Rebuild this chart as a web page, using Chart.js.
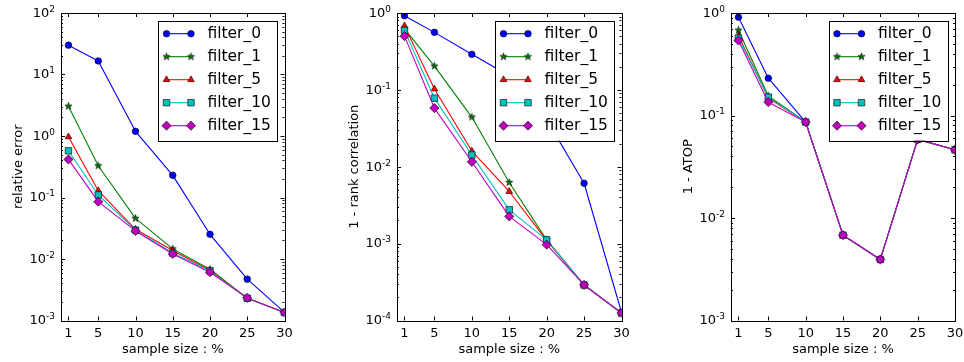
<!DOCTYPE html>
<html>
<head>
<meta charset="utf-8">
<script src="https://cdn.jsdelivr.net/npm/chart.js@4/dist/chart.umd.min.js"></script>
<style>
  html, body { margin: 0; padding: 0; background: #fff; }
  #wrap { position: relative; width: 964px; height: 362px; }
  #wrap canvas { position: absolute; left: 0; top: 0; }
</style>
</head>
<body>
<div id="wrap">
  <canvas id="relChart" width="964" height="362"></canvas>
  <canvas id="rankChart" width="964" height="362"></canvas>
  <canvas id="atopChart" width="964" height="362"></canvas>
</div>
<script>
const sampleSizes = [1, 5, 10, 15, 20, 25, 30];
const xTickLabels = ["1", "5", "10", "15", "20", "25", "30"];
const filterNames = ["filter_0", "filter_1", "filter_5", "filter_10", "filter_15"];

// one row per filter, one value per sample size
const relativeError = [
  [30, 16.6, 1.19, 0.229, 0.0252, 0.0047, 0.00136],
  [3.05, 0.328, 0.0458, 0.0146, 0.0068, 0.0023, 0.00135],
  [0.97, 0.129, 0.0304, 0.0137, 0.0065, 0.0023, 0.00135],
  [0.575, 0.11, 0.0295, 0.0125, 0.0064, 0.0023, 0.00135],
  [0.416, 0.0855, 0.0286, 0.0121, 0.0061, 0.00233, 0.00135]
];
const rankCorrelation = [
  [0.92, 0.56, 0.29, 0.153, 0.041, 0.0061, 0.000128],
  [0.62, 0.204, 0.0443, 0.00625, 0.00112, 0.00029, 0.000125],
  [0.68, 0.1026, 0.016, 0.00477, 0.0011, 0.00029, 0.000125],
  [0.594, 0.078, 0.0142, 0.00275, 0.00112, 0.00029, 0.000125],
  [0.50, 0.058, 0.0116, 0.00226, 0.00097, 0.00029, 0.000125]
];
const atopError = [
  [0.91, 0.231, 0.0863, 0.0068, 0.00394, 0.0585, 0.0463],
  [0.68, 0.155, 0.0863, 0.0068, 0.00394, 0.0585, 0.0463],
  [0.60, 0.148, 0.0863, 0.0068, 0.00394, 0.0585, 0.0463],
  [0.57, 0.151, 0.0863, 0.0068, 0.00394, 0.0585, 0.0463],
  [0.54, 0.135, 0.0863, 0.0068, 0.00394, 0.0585, 0.0463]
];

const relExponents = [-3, -2, -1, 0, 1, 2];
const rankExponents = [-4, -3, -2, -1, 0];
const atopExponents = [-3, -2, -1, 0];

const colors = ["#0000ff", "#008000", "#ff0000", "#00bfbf", "#bf00bf"];
const FONT = "'DejaVu Sans', sans-serif";

function makeStar(fill) {
  const c = document.createElement("canvas");
  c.width = 11; c.height = 11;
  const g = c.getContext("2d");
  g.beginPath();
  for (let k = 0; k < 10; k++) {
    const r = k % 2 ? 1.5 : 3.8;
    const ang = -Math.PI / 2 + k * Math.PI / 5;
    const px = 5.5 + r * Math.cos(ang), py = 5.5 + r * Math.sin(ang);
    k ? g.lineTo(px, py) : g.moveTo(px, py);
  }
  g.closePath();
  g.fillStyle = fill; g.fill();
  g.strokeStyle = "#000"; g.lineWidth = 0.6; g.stroke();
  return c;
}

const markers = [
  { style: "circle", radius: 3.3 },
  { style: makeStar(colors[1]), radius: 3.8 },
  { style: "triangle", radius: 3.9 },
  { style: "rect", radius: 4.6 },
  { style: "rectRot", radius: 4.6 }
];

function drawMarker(ctx, i, x, y) {
  ctx.fillStyle = colors[i];
  ctx.strokeStyle = "#000";
  ctx.lineWidth = 0.6;
  Chart.helpers.drawPoint(ctx, { pointStyle: markers[i].style, radius: markers[i].radius, rotation: 0, borderWidth: 0.6 }, x, y);
}

// matplotlib-like frame, inward ticks, labels and legend
const mplAxes = {
  id: "mplAxes",
  afterDatasetsDraw(chart, args, opts) {
    const ctx = chart.ctx;
    const a = chart.chartArea;
    const xs = chart.scales.x, ys = chart.scales.y;
    ctx.save();

    // legend
    const bw = 118.5, bh = 119.5;
    const bx = a.right - 8 - bw, by = a.top + 8;
    ctx.fillStyle = "#fff";
    ctx.fillRect(bx, by, bw, bh);
    ctx.strokeStyle = "#000"; ctx.lineWidth = 1;
    ctx.strokeRect(Math.round(bx) + 0.5, Math.round(by) + 0.5, Math.round(bw), Math.round(bh));
    filterNames.forEach((name, i) => {
      const cy = by + 12.7 + i * 23;
      const x1 = bx + 8.5, x2 = bx + 33;
      ctx.strokeStyle = colors[i]; ctx.lineWidth = 1.1;
      ctx.beginPath(); ctx.moveTo(x1, cy); ctx.lineTo(x2, cy); ctx.stroke();
      drawMarker(ctx, i, x1, cy);
      drawMarker(ctx, i, x2, cy);
      ctx.fillStyle = "#000";
      ctx.font = `15.5px ${FONT}`;
      ctx.textAlign = "left"; ctx.textBaseline = "middle";
      ctx.fillText(name, bx + 49.4, cy + 0.5);
    });

    // ticks
    ctx.strokeStyle = "#000"; ctx.lineWidth = 1;
    ctx.beginPath();
    sampleSizes.forEach(v => {
      const px = Math.round(xs.getPixelForValue(v)) + 0.5;
      ctx.moveTo(px, a.bottom); ctx.lineTo(px, a.bottom - 4);
      ctx.moveTo(px, a.top); ctx.lineTo(px, a.top + 4);
    });
    const exps = opts.exps;
    exps.forEach((e, i) => {
      for (let m = 1; m < 10; m++) {
        if (m > 1 && i === exps.length - 1) break;
        const py = Math.round(ys.getPixelForValue(m * Math.pow(10, e))) + 0.5;
        const len = m === 1 ? 4 : 2;
        ctx.moveTo(a.left, py); ctx.lineTo(a.left + len, py);
        ctx.moveTo(a.right, py); ctx.lineTo(a.right - len, py);
      }
    });
    ctx.stroke();

    // frame
    ctx.strokeRect(Math.round(a.left) + 0.5, Math.round(a.top) + 0.5,
      Math.round(a.right) - Math.round(a.left), Math.round(a.bottom) - Math.round(a.top));

    // x tick labels
    ctx.fillStyle = "#000";
    ctx.font = `13px ${FONT}`;
    ctx.textAlign = "center"; ctx.textBaseline = "alphabetic";
    sampleSizes.forEach((v, i) => {
      ctx.fillText(xTickLabels[i], xs.getPixelForValue(v), a.bottom + 16);
    });

    // y tick labels 10^e
    exps.forEach(e => {
      const py = ys.getPixelForValue(Math.pow(10, e));
      const es = String(e);
      ctx.font = `9px ${FONT}`;
      const w2 = ctx.measureText(es).width;
      ctx.font = `13px ${FONT}`;
      const w1 = ctx.measureText("10").width;
      const xr = a.left - 6;
      ctx.textAlign = "left";
      ctx.fillText("10", xr - w2 - w1, py + 3.8);
      ctx.font = `9px ${FONT}`;
      ctx.fillText(es, xr - w2, py - 1.2);
    });

    // axis titles
    ctx.font = `13px ${FONT}`;
    ctx.textAlign = "center";
    ctx.fillText(opts.xTitle, (a.left + a.right) / 2, 353);
    ctx.save();
    ctx.translate(a.left - 39.5, (a.top + a.bottom) / 2);
    ctx.rotate(-Math.PI / 2);
    ctx.fillText(opts.yTitle, 0, 0);
    ctx.restore();

    ctx.restore();
  }
};

function buildChart(id, rows, exps, yTitle, left, right) {
  const top = 13, bottom = 320.5;
  const datasets = rows.map((vals, i) => ({
    label: filterNames[i],
    data: sampleSizes.map((x, j) => ({ x: x, y: vals[j] })),
    borderColor: colors[i],
    backgroundColor: colors[i],
    borderWidth: 1.1,
    borderJoinStyle: "round",
    pointStyle: markers[i].style,
    pointRadius: markers[i].radius,
    pointHoverRadius: markers[i].radius,
    pointBackgroundColor: colors[i],
    pointBorderColor: "#000",
    pointBorderWidth: 0.6,
    tension: 0,
    clip: 0,
    order: rows.length - i
  }));
  return new Chart(document.getElementById(id).getContext("2d"), {
    type: "line",
    data: { datasets: datasets },
    options: {
      responsive: false,
      devicePixelRatio: 1,
      animation: false,
      layout: { padding: { left: left, right: 964 - right, top: top, bottom: 362 - bottom } },
      scales: {
        x: { type: "linear", min: 0, max: 30, display: false },
        y: { type: "logarithmic", min: Math.pow(10, exps[0]), max: Math.pow(10, exps[exps.length - 1]), display: false }
      },
      plugins: {
        legend: { display: false },
        tooltip: { enabled: false },
        mplAxes: { exps: exps, xTitle: "sample size : %", yTitle: yTitle }
      }
    },
    plugins: [mplAxes]
  });
}

buildChart("relChart", relativeError, relExponents, "relative error", 61, 284.5);
buildChart("rankChart", rankCorrelation, rankExponents, "1 - rank correlation", 397, 621.5);
buildChart("atopChart", atopError, atopExponents, "1 - ATOP", 731, 955);
</script>
</body>
</html>
